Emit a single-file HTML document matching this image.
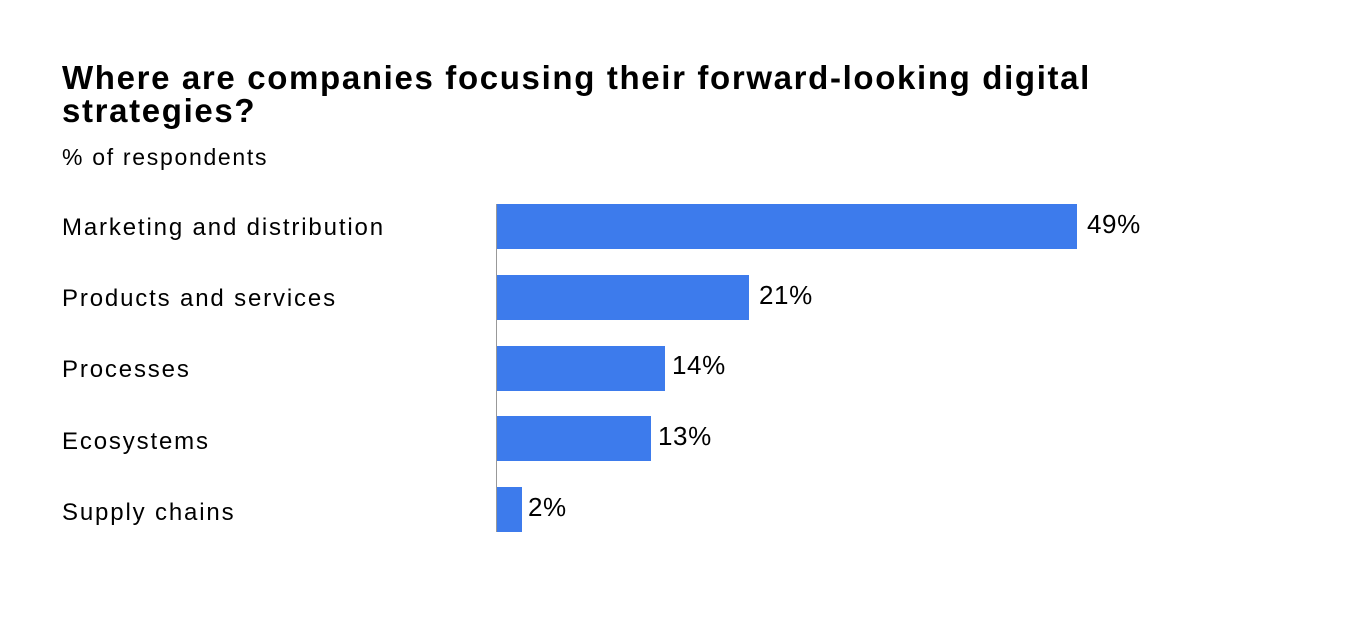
<!DOCTYPE html>
<html><head><meta charset="utf-8"><style>
html,body{margin:0;padding:0;background:#fff;width:1366px;height:621px;overflow:hidden;font-family:"Liberation Sans",sans-serif;color:#000}
.t{position:absolute;left:62px;top:61px;font-size:33px;font-weight:bold;line-height:33px;width:1280px;letter-spacing:1.65px}
.s{position:absolute;left:62px;top:144px;font-size:23px;letter-spacing:1.7px}
.l{position:absolute;left:62px;font-size:24px;letter-spacing:1.85px}
.b{position:absolute;left:497px;height:45px;background:#3d7bec}
.v{position:absolute;font-size:26px;letter-spacing:0.6px}
.ax{position:absolute;left:496px;top:204px;width:1px;height:328px;background:#999}
</style></head><body>
<div class="t">Where are companies focusing their forward-looking digital<br>strategies?</div>
<div class="s">% of respondents</div>
<div class="l" style="top:214px">Marketing and distribution</div>
<div class="l" style="top:285px">Products and services</div>
<div class="l" style="top:356px">Processes</div>
<div class="l" style="top:428px">Ecosystems</div>
<div class="l" style="top:499px">Supply chains</div>
<div class="b" style="top:204px;width:580px"></div>
<div class="b" style="top:275px;width:252px"></div>
<div class="b" style="top:346px;width:168px"></div>
<div class="b" style="top:416px;width:154px"></div>
<div class="b" style="top:487px;width:25px"></div>
<div class="ax"></div>
<div class="v" style="left:1087px;top:209px">49%</div>
<div class="v" style="left:759px;top:280px">21%</div>
<div class="v" style="left:672px;top:350px">14%</div>
<div class="v" style="left:658px;top:421px">13%</div>
<div class="v" style="left:528px;top:492px">2%</div>
</body></html>
